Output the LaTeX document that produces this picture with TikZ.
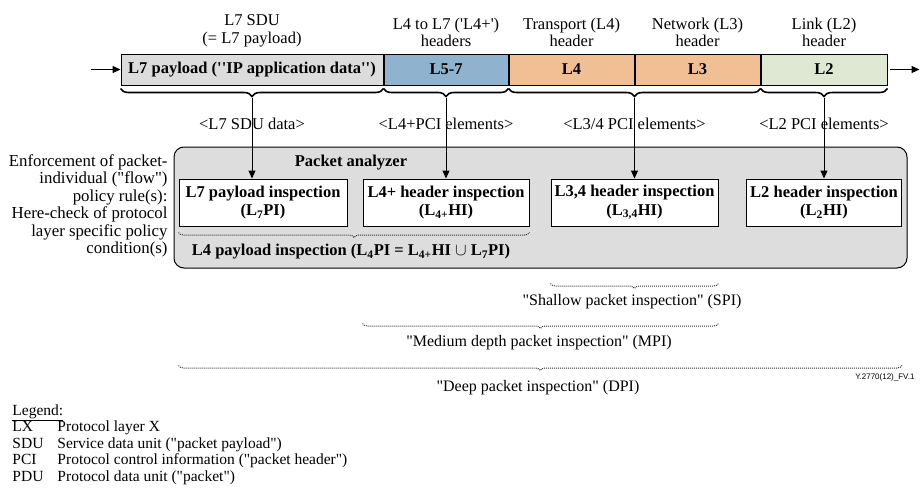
\documentclass[tikz,border=0pt]{standalone}
\usepackage{fontspec}
\setmainfont{Liberation Serif}[Ligatures=TeXOff]
\setsansfont{Liberation Sans}
\usetikzlibrary{arrows.meta,positioning,decorations.pathreplacing}

\definecolor{payloadgray}{RGB}{220,220,220}
\definecolor{upperblue}{RGB}{143,178,206}
\definecolor{hdrorange}{RGB}{240,192,148}
\definecolor{linkgreen}{RGB}{222,232,210}
\definecolor{analyzergray}{RGB}{221,221,221}

\newcommand\txtfont{\fontsize{16.5}{17.6}\selectfont}
\newcommand\boldtxt{\fontsize{16.5}{18.5}\selectfont\bfseries}

\tikzset{
  seg/.style={draw, line width=1pt, minimum height=31pt, inner sep=0pt, font=\boldtxt},
  toplabel/.style={align=center, inner sep=1pt},
  barbrace/.style={decorate, decoration={brace, mirror, amplitude=8pt}, line width=1.6pt},
  dotbrace/.style={decorate, decoration={brace, mirror, amplitude=5pt}, densely dotted, line width=1pt, draw=black!80},
  inspect/.style={draw, line width=1pt, fill=white, align=center, font=\boldtxt, minimum height=47pt, inner sep=2pt},
  analyzer/.style={draw, line width=1pt, fill=analyzergray, rounded corners=10pt},
  depthlabel/.style={font=\fontsize{16}{17}\selectfont}
}

\begin{document}
\begin{tikzpicture}[x=1pt,y=1pt,>={Triangle[length=8pt,width=7pt]},line width=1pt,
                    font=\txtfont]
  \useasboundingbox (0,0) rectangle (921,-488);

  % the packet
  \node[seg, fill=payloadgray, minimum width=262pt] (l7) at (252,-69.5) {L7 payload (''IP application data'')};
  \node[seg, fill=upperblue, minimum width=124pt, right=0pt of l7] (l57) {L5-7};
  \node[seg, fill=hdrorange, minimum width=125pt, right=0pt of l57] (l4) {L4};
  \node[seg, fill=hdrorange, minimum width=125pt, right=0pt of l4] (l3) {L3};
  \node[seg, fill=linkgreen, minimum width=126pt, right=0pt of l3] (l2) {L2};

  \node[toplabel, above=5pt of l7]  (sdu)  {L7 SDU\\(= L7 payload)};
  \node[toplabel, above=5pt of l57] (upper) {L4 to L7 ('L4+')\\headers};
  \node[toplabel, above=5pt of l4]  (tpt)  {Transport (L4)\\header};
  \node[toplabel, above=5pt of l3]  (net)  {Network (L3)\\header};
  \node[toplabel, above=5pt of l2]  (lnk)  {Link (L2)\\header};

  \coordinate[left=30pt of l7] (pin);
  \coordinate[right=32pt of l2] (pout);
  \draw[->] (pin) -- (l7);
  \draw[->] ([xshift=2pt]l2.east) -- (pout);

  % braces under the packet
  \draw[barbrace] ([yshift=-3pt]l7.south west)  -- ([yshift=-3pt]l7.south east);
  \draw[barbrace] ([yshift=-3pt]l57.south west) -- ([yshift=-3pt]l57.south east);
  \draw[barbrace] ([yshift=-3pt]l4.south west)  -- ([yshift=-3pt]l3.south east);
  \draw[barbrace] ([yshift=-3pt]l2.south west)  -- ([yshift=-3pt]l2.south east);
  \coordinate (t7)  at ([yshift=-12pt]l7.south);
  \coordinate (t57) at ([yshift=-12pt]l57.south);
  \coordinate (t34) at ([yshift=-12pt]l4.south east);
  \coordinate (t2)  at ([yshift=-12pt]l2.south);

  % packet analyzer
  \node[analyzer, minimum width=733pt, minimum height=121pt] (pa) at (540.5,-207.5) {};
  \node[font=\boldtxt] (patitle) at (351,-163) {Packet analyzer};

  \node[inspect, minimum width=168pt] (l7pi) at (263,-202.5) {L7 payload inspection\\(L\textsubscript{7}PI)};
  \node[inspect, minimum width=166pt] (l4pi) at (t57 |- l7pi) {L4+ header inspection\\(L\textsubscript{4+}HI)};
  \node[inspect, minimum width=167pt] (l34hi) at (t34 |- l7pi) {L3,4 header inspection\\(L\textsubscript{3,4}HI)};
  \node[inspect, minimum width=155pt] (l2hi) at (t2 |- l7pi) {L2 header inspection\\(L\textsubscript{2}HI)};

  \draw[dotbrace] ([yshift=-6pt]l7pi.south west) -- ([yshift=-6pt]l4pi.south east);
  \node[font=\boldtxt] (l4pl) at (351,-252)
    {L4 payload inspection (L\textsubscript{4}PI = L\textsubscript{4+}HI $\cup$ L\textsubscript{7}PI)};

  % PCI element labels and arrows
  \node (d7)  at ([yshift=-26pt]t7)  {<L7 SDU data>};
  \node (d57) at ([yshift=-26pt]t57) {<L4+PCI elements>};
  \node (d34) at ([yshift=-26pt]t34) {<L3/4 PCI elements>};
  \node (d2)  at ([yshift=-26pt]t2)  {<L2 PCI elements>};
  \draw[->] (t7)  -- (t7 |- l7pi.north);
  \draw[->] (t57) -- (l4pi);
  \draw[->] (t34) -- (l34hi);
  \draw[->] (t2)  -- (l2hi);

  \node[align=right, anchor=east, inner sep=0pt, font=\fontsize{16.8}{17.5}\selectfont] (policy) at (168,-206)
    {Enforcement of packet-\\individual ("flow")\\policy rule(s):\\Here-check of protocol\\layer specific policy\\condition(s)};

  % inspection depths
  \draw[dotbrace] ([yshift=-57pt]l34hi.south west) -- ([yshift=-57pt]l34hi.south east);
  \draw[dotbrace] ([yshift=-97pt]l4pi.south west)  -- ([yshift=-97pt]l34hi.south east);
  \draw[dotbrace] ([yshift=-139pt]l7pi.south west) -- ([yshift=-139pt]l2hi.south east);
  \node[depthlabel] (spi) at (632,-302) {"Shallow packet inspection" (SPI)};
  \node[depthlabel] (mpi) at (539,-343) {"Medium depth packet inspection" (MPI)};
  \node[depthlabel] (dpi) at (538,-388) {"Deep packet inspection" (DPI)};
  \node[font=\sffamily\fontsize{8}{9}\selectfont, anchor=east, inner sep=0pt] (figid) at (915,-377) {Y.2770(12)\_FV.1};

  % legend
  \node[anchor=north west, inner sep=0pt, align=left, font=\fontsize{15.5}{16.5}\selectfont] (legend) at (12,-404)
    {\underline{Legend:}\\
     \makebox[45pt][l]{LX}Protocol layer X\\
     \makebox[45pt][l]{SDU}Service data unit ("packet payload")\\
     \makebox[45pt][l]{PCI}Protocol control information ("packet header")\\
     \makebox[45pt][l]{PDU}Protocol data unit ("packet")};
\end{tikzpicture}
\end{document}
